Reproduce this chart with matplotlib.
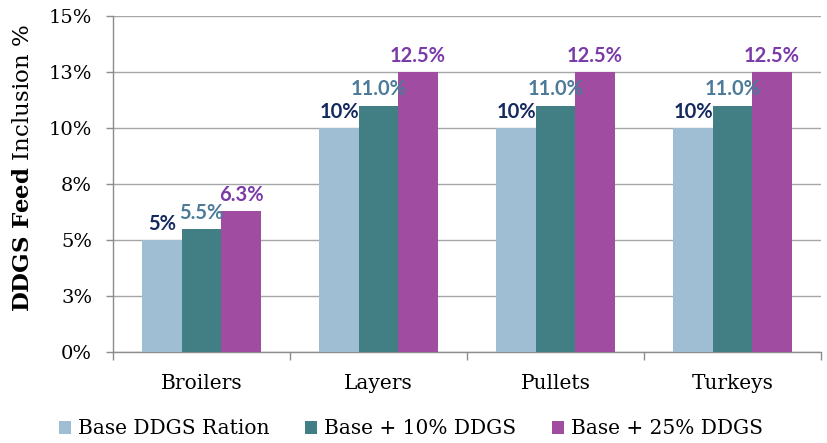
import matplotlib
matplotlib.use("Agg")
import matplotlib.pyplot as plt
import numpy as np
from matplotlib.patches import Patch

categories = ["Broilers", "Layers", "Pullets", "Turkeys"]
series_names = ["Base DDGS Ration", "Base + 10% DDGS", "Base + 25% DDGS"]
base_ration = [5.0, 10.0, 10.0, 10.0]
plus_10 = [5.5, 11.0, 11.0, 11.0]
plus_25 = [6.3, 12.5, 12.5, 12.5]
value_labels = [
    ["5%", "10%", "10%", "10%"],
    ["5.5%", "11.0%", "11.0%", "11.0%"],
    ["6.3%", "12.5%", "12.5%", "12.5%"],
]
y_ticks = [0, 2.5, 5, 7.5, 10, 12.5, 15]
y_tick_labels = ["0%", "3%", "5%", "8%", "10%", "13%", "15%"]

bar_colors = ["#A0BED3", "#417F84", "#A04DA1"]
label_colors = ["#14295E", "#4C7B9A", "#7A3AA8"]

serif = "DejaVu Serif"
plt.rcParams["mathtext.fontset"] = "custom"
plt.rcParams["mathtext.rm"] = serif
plt.rcParams["mathtext.bf"] = serif + ":bold"

fig = plt.figure(figsize=(8.27, 4.43), dpi=100)
ax = fig.add_axes([113 / 827, 1 - 352 / 443, (821 - 113) / 827, (352 - 16) / 443])

x = np.arange(len(categories))
width = 0.223
series = [base_ration, plus_10, plus_25]
for i, (vals, col) in enumerate(zip(series, bar_colors)):
    pos = x + (i - 1) * width
    ax.bar(pos, vals, width=width, color=col, zorder=3)
    for xp, v, lab in zip(pos, vals, value_labels[i]):
        ax.annotate(lab, (xp, v), xytext=(0, 4.5), textcoords="offset points",
                    ha="center", va="bottom", fontsize=14.5, fontweight="bold",
                    family="Lato", color=label_colors[i], zorder=4)

ax.set_xlim(-0.5, len(categories) - 0.5)
ax.set_ylim(0, 15)
ax.set_yticks(y_ticks)
ax.set_yticklabels(y_tick_labels, family=serif, fontsize=14)
ax.yaxis.grid(True, color="#A6A6A6", linewidth=1, zorder=0)
ax.set_axisbelow(True)

ax.set_xticks(x)
ax.set_xticklabels(categories, family=serif, fontsize=14.5)
ax.tick_params(axis="x", which="major", length=0, pad=16)
ax.set_xticks(np.arange(len(categories) + 1) - 0.5, minor=True)
ax.tick_params(axis="x", which="minor", length=6, color="#8C8C8C", width=1)
ax.tick_params(axis="y", length=5, color="#8C8C8C", width=1, pad=10)

for s in ["top", "right"]:
    ax.spines[s].set_visible(False)
for s in ["left", "bottom"]:
    ax.spines[s].set_color("#8C8C8C")
    ax.spines[s].set_linewidth(1)

ax.set_ylabel(r"$\bf{DDGS\ Feed}$ Inclusion %", family=serif, fontsize=16.5)
ax.yaxis.set_label_coords(-0.111, 0.548)

handles = [Patch(facecolor=c, edgecolor="none") for c in bar_colors]
fig.legend(handles, series_names, loc="center", bbox_to_anchor=(411 / 827, 1 - 429 / 443),
           ncol=3, frameon=False, prop={"family": serif, "size": 14.5},
           handlelength=0.6, handleheight=0.6, handletextpad=0.35, columnspacing=1.75)

fig.savefig("out.png", dpi=100)
